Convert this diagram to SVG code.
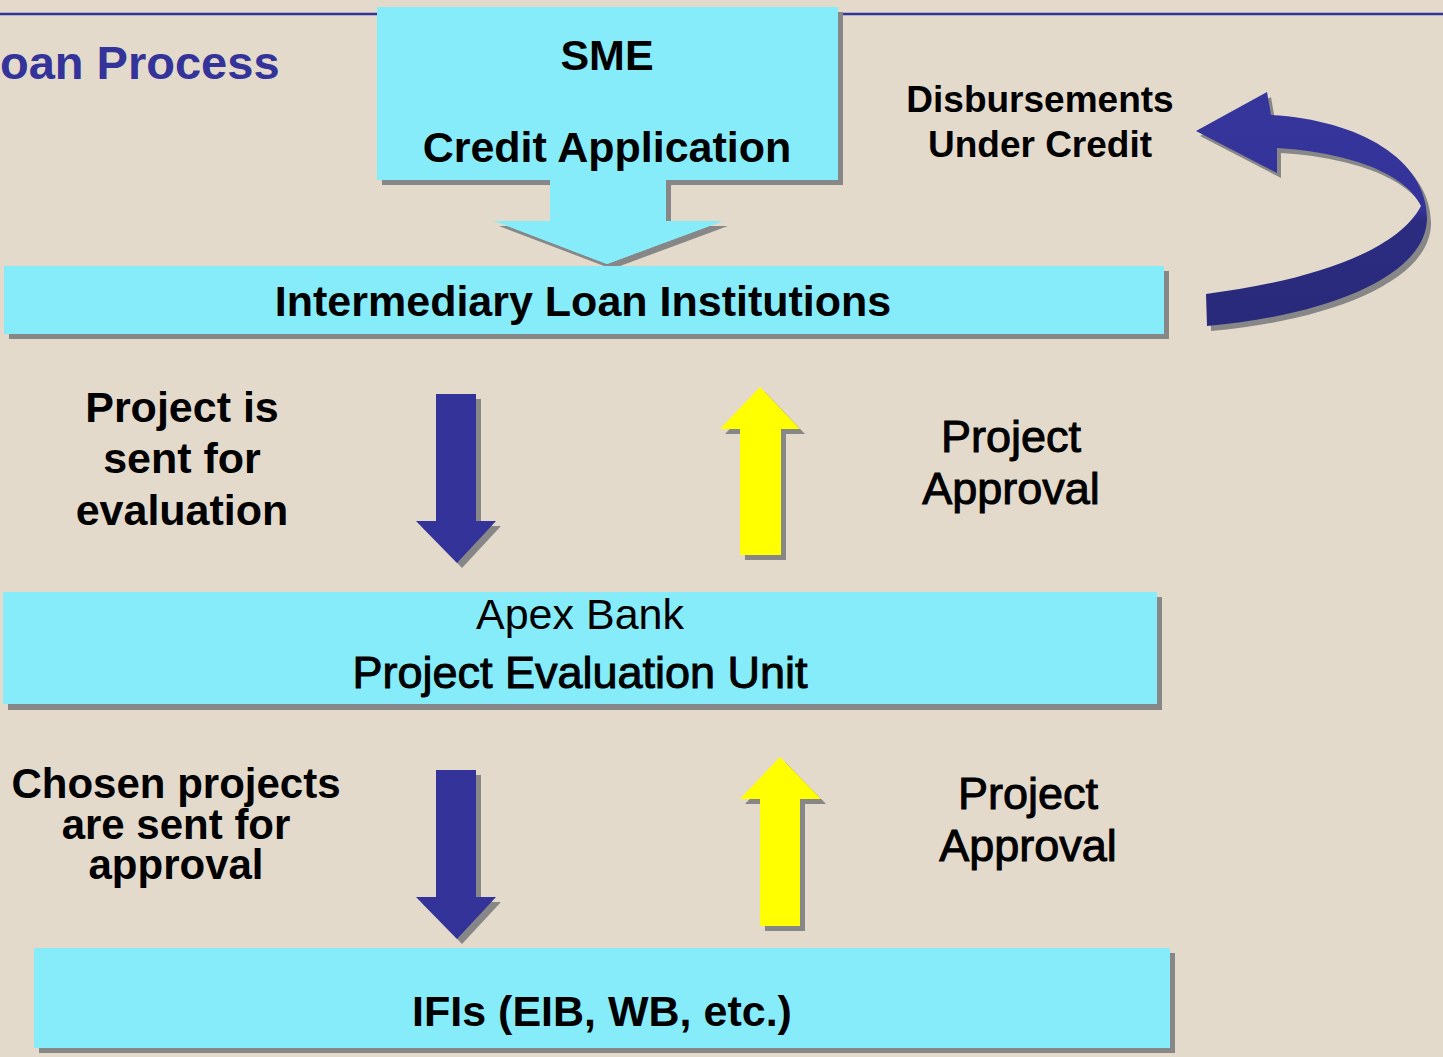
<svg xmlns="http://www.w3.org/2000/svg" width="1443" height="1057" viewBox="0 0 1443 1057">
<defs>
<style>
.box{fill:#86ecfa}
.sh{fill:#878787}
.b{font-family:"Liberation Sans",Arial,sans-serif;font-weight:bold;fill:#000;text-anchor:middle}
.r{font-family:"Liberation Sans",Arial,sans-serif;font-weight:normal;fill:#000;text-anchor:middle}
.m{font-family:"Liberation Sans",Arial,sans-serif;font-weight:normal;fill:#000;stroke:#000;stroke-width:1;text-anchor:middle}
.blue{fill:#333399}
.yel{fill:#ffff00}
</style>
<linearGradient id="cg" x1="0" y1="0" x2="0" y2="1">
<stop offset="0" stop-color="#35359b"/>
<stop offset="0.5" stop-color="#333399"/>
<stop offset="0.55" stop-color="#2b2b80"/>
<stop offset="1" stop-color="#2a2a7c"/>
</linearGradient>
</defs>
<rect width="1443" height="1057" fill="#e3dacc"/>
<line x1="0" y1="14" x2="377" y2="14" stroke="#333399" stroke-width="2.5"/>
<line x1="842" y1="14" x2="1443" y2="14" stroke="#333399" stroke-width="2.5"/>
<text x="0" y="79" font-family="Liberation Sans,Arial,sans-serif" font-weight="bold" font-size="47" fill="#333399">oan Process</text>

<g id="connectors">
<g id="arrow-sme">
<path class="sh" d="M555,185 H671 V226 H728 L612,269 L499,226 H555 Z"/>
<path class="box" d="M550,180 H666 V221 H723 L607,264 L494,221 H550 Z"/>
</g>
<g id="arrow-down1">
<path class="sh" d="M441,399 H481 V526 H501 L462,568 L421,526 H441 Z"/>
<path class="blue" d="M436,394 H476 V521 H496 L457,563 L416,521 H436 Z"/>
</g>
<g id="arrow-up1">
<path class="sh" d="M745,560 H786 V434 H805 L765,392 L725,434 H745 Z"/>
<path class="yel" d="M740,555 H781 V429 H800 L760,387 L720,429 H740 Z"/>
</g>
<g id="arrow-down2">
<path class="sh" d="M441,775 H481 V902 H501 L462,944 L421,902 H441 Z"/>
<path class="blue" d="M436,770 H476 V897 H496 L457,939 L416,897 H436 Z"/>
</g>
<g id="arrow-up2">
<path class="sh" d="M765,931 H805 V804 H826 L785,762 L745,804 H765 Z"/>
<path class="yel" d="M760,926 H800 V799 H821 L780,757 L740,799 H760 Z"/>
</g>
<g id="arrow-curve">
<path class="sh" transform="translate(4,5)" d="M1206,294 C1300,282 1395,255 1421,206 C1405,172 1345,152 1277,148 L1277,173 L1196,131 L1267,92 L1271,115 C1360,120 1427,160 1427,218 C1427,275 1330,315 1207,326 Z"/>
<path fill="url(#cg)" d="M1206,294 C1300,282 1395,255 1421,206 C1405,172 1345,152 1277,148 L1277,173 L1196,131 L1267,92 L1271,115 C1360,120 1427,160 1427,218 C1427,275 1330,315 1207,326 Z"/>
</g>
</g>

<g id="node-sme">
<rect class="sh" x="382" y="12" width="461" height="173"/>
<rect class="box" x="377" y="7" width="461" height="173"/>
<text class="b" x="607" y="70" font-size="43">SME</text>
<text class="b" x="607" y="162" font-size="43">Credit Application</text>
</g>
<path class="box" d="M550,178 H666 V221 H723 L607,264 L494,221 H550 Z"/>

<g id="node-ili">
<rect class="sh" x="9" y="271" width="1160" height="68"/>
<rect class="box" x="4" y="266" width="1160" height="68"/>
<text class="b" x="583" y="316" font-size="43">Intermediary Loan Institutions</text>
</g>

<g id="node-apex">
<rect class="sh" x="8" y="597" width="1154" height="113"/>
<rect class="box" x="3" y="592" width="1154" height="112"/>
<text class="r" x="580" y="629" font-size="43">Apex Bank</text>
<text class="m" x="580" y="688" font-size="45">Project Evaluation Unit</text>
</g>

<g id="node-ifi">
<rect class="sh" x="39" y="953" width="1136" height="100"/>
<rect class="box" x="34" y="948" width="1136" height="100"/>
<text class="b" x="602" y="1026" font-size="43">IFIs (EIB, WB, etc.)</text>
</g>

<g id="labels">
<text class="b" x="1040" y="112" font-size="37">Disbursements</text>
<text class="b" x="1040" y="157" font-size="37">Under Credit</text>
<text class="b" x="182" y="422" font-size="43">Project is</text>
<text class="b" x="182" y="473" font-size="43">sent for</text>
<text class="b" x="182" y="525" font-size="43">evaluation</text>
<text class="m" x="1011" y="452" font-size="45">Project</text>
<text class="m" x="1011" y="504" font-size="45">Approval</text>
<text class="b" x="176" y="798" font-size="42">Chosen projects</text>
<text class="b" x="176" y="839" font-size="42">are sent for</text>
<text class="b" x="176" y="879" font-size="42">approval</text>
<text class="m" x="1028" y="809" font-size="45">Project</text>
<text class="m" x="1028" y="861" font-size="45">Approval</text>
</g>
</svg>
